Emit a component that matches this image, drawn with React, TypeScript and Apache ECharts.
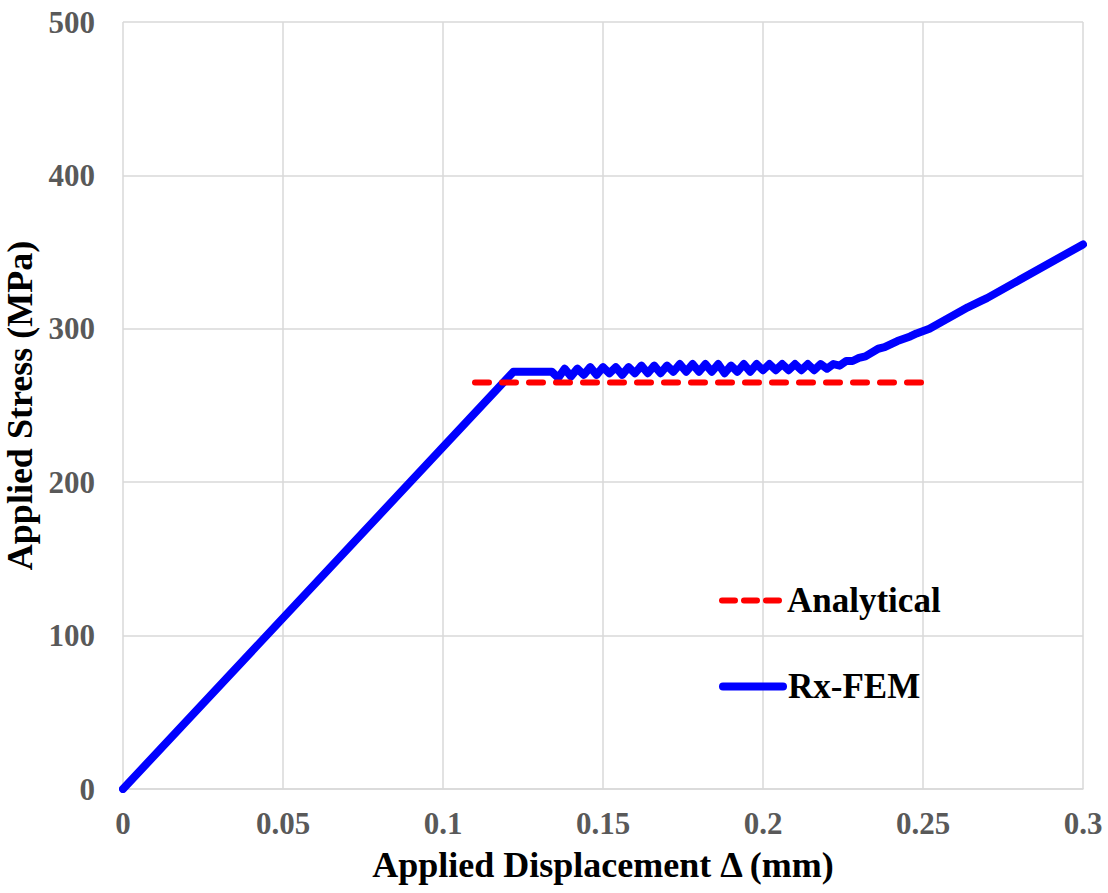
import React, { useEffect, useRef } from "react";
import * as echarts from "echarts";

const xTicks = [0, 0.05, 0.1, 0.15, 0.2, 0.25, 0.3];
const yTicks = [0, 100, 200, 300, 400, 500];

const analyticalX = [0.11, 0.25];
const analyticalY = [265, 265];

const femX = [
  0, 0.122, 0.134, 0.136, 0.138, 0.14, 0.142, 0.144, 0.146, 0.148, 0.15, 0.152, 0.154, 0.156, 0.158,
  0.16, 0.162, 0.164, 0.166, 0.168, 0.17, 0.172, 0.174, 0.176, 0.178, 0.18, 0.182, 0.184, 0.186,
  0.188, 0.19, 0.192, 0.194, 0.196, 0.198, 0.2, 0.202, 0.204, 0.206, 0.208, 0.21, 0.212, 0.214,
  0.216, 0.218, 0.22, 0.222, 0.224, 0.226, 0.228, 0.23, 0.232, 0.236, 0.238, 0.242, 0.246, 0.248,
  0.252, 0.258, 0.264, 0.268, 0.27, 0.3,
];
const femY = [
  0, 272, 272, 268, 274, 269, 274, 270, 275, 270, 275, 271, 275, 270, 275,
  271, 276, 271, 276, 271, 276, 272, 277, 272, 277, 272, 277, 272, 277,
  271, 276, 272, 277, 272, 277, 273, 277, 273, 277, 273, 277, 273, 277,
  273, 277, 274, 277, 276, 279, 279, 281, 282, 287, 288, 292, 295, 297,
  300, 307, 314, 318, 320, 355,
];

const FONT = "'Liberation Serif', 'Times New Roman', serif";

export default function App() {
  const ref = useRef<HTMLDivElement>(null);
  useEffect(() => {
    if (!ref.current) return;
    const chart = echarts.init(ref.current, undefined, { renderer: "svg" });
    const labelStyle = {
      fontFamily: FONT,
      fontWeight: "bold" as const,
      fontSize: 31,
      color: "#595959",
    };
    const titleStyle = { fontFamily: FONT, fontWeight: "bold" as const, fontSize: 36, color: "#000000" };
    const legendText = { fontFamily: FONT, fontWeight: "bold" as const, fontSize: 35, color: "#000000" };
    chart.setOption({
      animation: false,
      backgroundColor: "#ffffff",
      grid: {
        left: 123,
        right: 25,
        top: 22,
        bottom: 104,
        containLabel: false,
        outerBoundsMode: "none",
      },
      xAxis: {
        type: "value",
        min: 0,
        max: 0.3,
        interval: 0.05,
        name: "Applied Displacement \u0394 (mm)",
        nameLocation: "middle",
        nameGap: 58,
        nameTextStyle: titleStyle,
        axisLine: { show: true, lineStyle: { color: "#d9d9d9", width: 1.5 } },
        axisTick: { show: false },
        axisLabel: {
          ...labelStyle,
          margin: 19,
          formatter: (v: number) => {
            const t = xTicks.find((k) => Math.abs(k - v) < 1e-9);
            return t === undefined ? "" : String(t);
          },
        },
        splitLine: { show: true, lineStyle: { color: "#d9d9d9", width: 1.5 } },
      },
      yAxis: {
        type: "value",
        min: 0,
        max: 500,
        interval: 100,
        name: "Applied Stress (MPa)",
        nameLocation: "middle",
        nameGap: 75,
        nameTextStyle: titleStyle,
        axisLine: { show: false },
        axisTick: { show: false },
        axisLabel: {
          ...labelStyle,
          margin: 28,
          formatter: (v: number) => (yTicks.includes(v) ? String(v) : ""),
        },
        splitLine: { show: true, lineStyle: { color: "#d9d9d9", width: 1.5 } },
      },
      legend: [
        {
          data: ["Analytical"],
          left: 714,
          top: 578,
          itemWidth: 60,
          itemHeight: 12,
          itemGap: 8,
          itemStyle: { opacity: 0 },
          lineStyle: { color: "#ff0000", width: 6, type: [13, 9], cap: "round" },
          textStyle: legendText,
        },
        {
          data: ["Rx-FEM"],
          left: 714,
          top: 664,
          itemWidth: 60,
          itemHeight: 12,
          itemGap: 8,
          itemStyle: { opacity: 0 },
          lineStyle: { color: "#0000ff", width: 8, cap: "round" },
          textStyle: legendText,
        },
      ],
      series: [
        {
          name: "Rx-FEM",
          type: "line",
          data: femX.map((x, i) => [x, femY[i]]),
          showSymbol: false,
          symbol: "none",
          lineStyle: { color: "#0000ff", width: 8, cap: "round", join: "round" },
          itemStyle: { color: "#0000ff" },
          z: 2,
        },
        {
          name: "Analytical",
          type: "line",
          data: analyticalX.map((x, i) => [x, analyticalY[i]]),
          showSymbol: false,
          symbol: "none",
          lineStyle: { color: "#ff0000", width: 6, type: [14, 13], cap: "round" },
          itemStyle: { color: "#ff0000" },
          z: 3,
        },
      ],
    });
    return () => chart.dispose();
  }, []);
  return (
    <div
      ref={ref}
      style={{ width: 1108, height: 893, position: "absolute", left: 0, top: 0 }}
    />
  );
}
